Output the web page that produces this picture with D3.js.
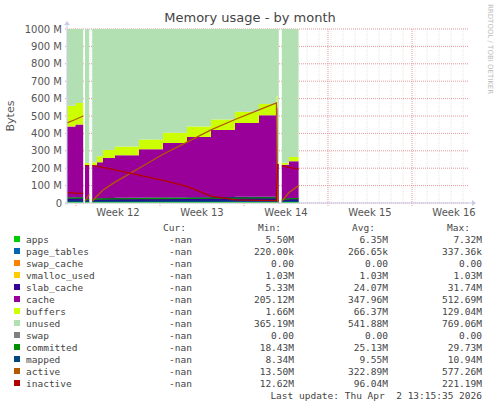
<!DOCTYPE html>
<html><head><meta charset="utf-8">
<script src="https://cdn.jsdelivr.net/npm/d3@7"></script>
<style>body{margin:0;background:#fff}</style>
</head><body>
<script>
// sample times in days from left edge of the graph; null = no data
const days      = [0, 0.7, 1.35, 1.42, 1.5, 1.85, 1.97, 2.1, 2.5, 3, 4, 6, 8, 10, 12, 14, 16, 17.45, 17.55, 17.65, 17.78, 17.9, 18.5, 19.3];
const apps      = [6, 6, 6, null, 6, 6, null, 6, 6, 6, 6, 6, 6, 6, 6, 6, 6, 7, 6, 6, null, 6, 6, 6];
const pageTables= [0.3, 0.3, 0.3, null, 0.3, 0.3, null, 0.3, 0.3, 0.3, 0.3, 0.3, 0.3, 0.3, 0.3, 0.3, 0.3, 0.3, 0.3, 0.3, null, 0.3, 0.3, 0.3];
const swapCache = [0, 0, 0, null, 0, 0, null, 0, 0, 0, 0, 0, 0, 0, 0, 0, 0, 0, 0, 0, null, 0, 0, 0];
const vmalloc   = [1, 1, 1, null, 1, 1, null, 1, 1, 1, 1, 1, 1, 1, 1, 1, 1, 1, 1, 1, null, 1, 1, 1];
const slab      = [25, 25, 25, null, 10, 15, null, 10, 20, 22, 23, 24, 25, 26, 27, 28, 29, 30, 10, 12, null, 10, 20, 22];
const cache     = [407, 419, 427, null, 197, 199, null, 200, 207, 230, 244, 278, 312, 346, 385, 424, 468, 510, 202, 202, null, 202, 212, 232];
const buffers   = [120, 123, 130, null, 15, 40, null, 17, 35, 45, 50, 55, 60, 60, 60, 65, 65, 67, 15, 18, null, 12, 25, 50];
const unused    = [440, 425, 410, null, 770, 738, null, 765, 730, 695, 675, 635, 595, 560, 520, 475, 430, 385, 765, 760, null, 768, 735, 688];
const swap      = [0, 0, 0, null, 0, 0, null, 0, 0, 0, 0, 0, 0, 0, 0, 0, 0, 0, 0, 0, null, 0, 0, 0];
const committed = [28, 28, 29, null, 19, 20, null, 19, 22, 23, 24, 25, 26, 27, 28, 28, 29, 29, 19, 19, null, 19, 24, 25];
const mapped    = [10, 10, 10, null, 9, 9, null, 8.5, 9, 9, 9.5, 9.5, 10, 10, 10, 10.5, 10.5, 10.9, 8.5, 8.5, null, 8.5, 9, 9.5];
const active    = [460, 480, 500, null, 10, 50, null, 10, 40, 75, 120, 200, 280, 350, 420, 480, 535, 575, 10, 12, null, 10, 60, 100];
const inactive  = [60, 57, 55, null, 215, 215, null, 215, 212, 205, 190, 160, 130, 95, 40, 18, 15, 14, 220, 220, null, 215, 205, 195];

const yTicks = [0, 100, 200, 300, 400, 500, 600, 700, 800, 900, 1000];
const weekLabels = ["Week 12", "Week 13", "Week 14", "Week 15", "Week 16"];
const weekStarts = [0.75, 7.75, 14.75, 21.75, 28.75];

const series = [
  {name: "apps", color: "#00CC00", v: apps, stack: true, stats: ["5.50M", "6.35M", "7.32M"]},
  {name: "page_tables", color: "#0066B3", v: pageTables, stack: true, stats: ["220.00k", "266.65k", "337.36k"]},
  {name: "swap_cache", color: "#FF8000", v: swapCache, stack: true, stats: ["0.00", "0.00", "0.00"]},
  {name: "vmalloc_used", color: "#FFCC00", v: vmalloc, stack: true, stats: ["1.03M", "1.03M", "1.03M"]},
  {name: "slab_cache", color: "#330099", v: slab, stack: true, stats: ["5.33M", "24.07M", "31.74M"]},
  {name: "cache", color: "#990099", v: cache, stack: true, stats: ["205.12M", "347.96M", "512.69M"]},
  {name: "buffers", color: "#CCFF00", v: buffers, stack: true, stats: ["1.66M", "66.37M", "129.04M"]},
  {name: "unused", color: "#B3E0B3", v: unused, stack: true, stats: ["365.19M", "541.88M", "769.06M"]},
  {name: "swap", color: "#808080", v: swap, stack: true, stats: ["0.00", "0.00", "0.00"]},
  {name: "committed", color: "#008F00", v: committed, stack: false, stats: ["18.43M", "25.13M", "29.73M"]},
  {name: "mapped", color: "#00487D", v: mapped, stack: false, stats: ["8.34M", "9.55M", "10.94M"]},
  {name: "active", color: "#B35A00", v: active, stack: false, stats: ["13.50M", "322.89M", "577.26M"]},
  {name: "inactive", color: "#B30000", v: inactive, stack: false, stats: ["12.62M", "96.04M", "221.19M"]}
];

const W = 497, H = 408;
const L = 67, R = 468, T = 29, B = 203;
const svg = d3.select("body").append("svg").attr("width", W).attr("height", H)
  .style("font-family", "DejaVu Sans");

const x = d3.scaleLinear().domain([0, (R - L) / 12]).range([L, R]);
const y = d3.scaleLinear().domain([0, 1000]).range([B, T]);

// grid
const g = svg.append("g");
d3.range(0, 34).forEach(d => {
  g.append("line").attr("x1", x(d)).attr("x2", x(d)).attr("y1", T).attr("y2", B)
    .attr("stroke", "#ddd").attr("stroke-dasharray", "1,1").attr("stroke-width", 0.7);
});
weekStarts.forEach(d => {
  g.append("line").attr("x1", x(d)).attr("x2", x(d)).attr("y1", T).attr("y2", B + 3)
    .attr("stroke", "#e08080").attr("stroke-dasharray", "1,1").attr("stroke-width", 0.8);
});
yTicks.forEach(t => {
  g.append("line").attr("x1", L - 2).attr("x2", R).attr("y1", y(t)).attr("y2", y(t))
    .attr("stroke", "#e08080").attr("stroke-dasharray", "1,1").attr("stroke-width", 0.8);
  svg.append("text").attr("x", 62).attr("y", y(t) + 3.5).attr("text-anchor", "end")
    .attr("font-size", 10).attr("fill", "#555").text(t === 0 ? "0" : t + " M");
});
weekLabels.forEach((w, i) => {
  svg.append("text").attr("x", x(weekStarts[i] + 3.5)).attr("y", 216).attr("text-anchor", "middle")
    .attr("font-size", 10).attr("fill", "#555").text(w);
});

// stacked areas
const rows = days.map((d, i) => {
  const r = {day: d, ok: apps[i] !== null};
  series.forEach(s => r[s.name] = s.v[i] === null ? 0 : s.v[i]);
  return r;
});
const stacked = d3.stack().keys(series.filter(s => s.stack).map(s => s.name))(rows);
const area = d3.area().defined(d => d.data.ok).curve(d3.curveStepAfter)
  .x(d => x(d.data.day)).y0(d => y(d[0])).y1(d => y(d[1]));
stacked.forEach((layer, i) => {
  svg.append("path").datum(layer).attr("d", area).attr("fill", series[i].color);
});
const line = d3.line().defined(d => d.v !== null).x(d => x(d.day)).y(d => y(d.v));
series.filter(s => !s.stack).forEach(s => {
  svg.append("path").datum(days.map((d, i) => ({day: d, v: s.v[i]})))
    .attr("d", line).attr("fill", "none").attr("stroke", s.color).attr("stroke-width", 1.3);
});

// axes
svg.append("line").attr("x1", L - 2).attr("x2", R + 4).attr("y1", B).attr("y2", B).attr("stroke", "#c8cce8");
svg.append("line").attr("x1", L).attr("x2", L).attr("y1", B + 2).attr("y2", T - 5).attr("stroke", "#c8cce8");
svg.append("path").attr("d", `M${R + 4},${B - 3}L${R + 8},${B}L${R + 4},${B + 3}Z`).attr("fill", "#c8cce8");
svg.append("path").attr("d", `M${L - 3},${T - 4}L${L},${T - 8}L${L + 3},${T - 4}Z`).attr("fill", "#c8cce8");

svg.append("text").attr("x", 250).attr("y", 22).attr("text-anchor", "middle")
  .attr("font-size", 13).attr("fill", "#444").text("Memory usage - by month");
svg.append("text").attr("transform", "translate(14,116) rotate(-90)").attr("text-anchor", "middle")
  .attr("font-size", 11).attr("fill", "#555").text("Bytes");
svg.append("text").attr("transform", "translate(488,4) rotate(90)")
  .attr("font-size", 7).attr("fill", "#bbb").text("RRDTOOL / TOBI OETIKER");

// legend
const mono = "DejaVu Sans Mono";
const lg = svg.append("g").attr("font-family", mono).attr("font-size", 9.5).attr("fill", "#444");
[["Cur:", 186], ["Min:", 281], ["Avg:", 375], ["Max:", 470]].forEach(([t, xx]) =>
  lg.append("text").attr("x", xx).attr("y", 231).attr("text-anchor", "end").text(t));
series.forEach((s, i) => {
  const yy = 243 + i * 12;
  lg.append("rect").attr("x", 14).attr("y", yy - 7).attr("width", 6).attr("height", 6).attr("fill", s.color);
  lg.append("text").attr("x", 26).attr("y", yy).text(s.name);
  lg.append("text").attr("x", 192).attr("y", yy).attr("text-anchor", "end").text("-nan");
  s.stats.forEach((v, j) =>
    lg.append("text").attr("x", [294, 388, 482][j]).attr("y", yy).attr("text-anchor", "end").text(v));
});
lg.append("text").attr("x", 482).attr("y", 399).attr("text-anchor", "end").text("Last update: Thu Apr  2 13:15:35 2026")
  .attr("xml:space", "preserve").style("white-space", "pre");
</script>
</body></html>
